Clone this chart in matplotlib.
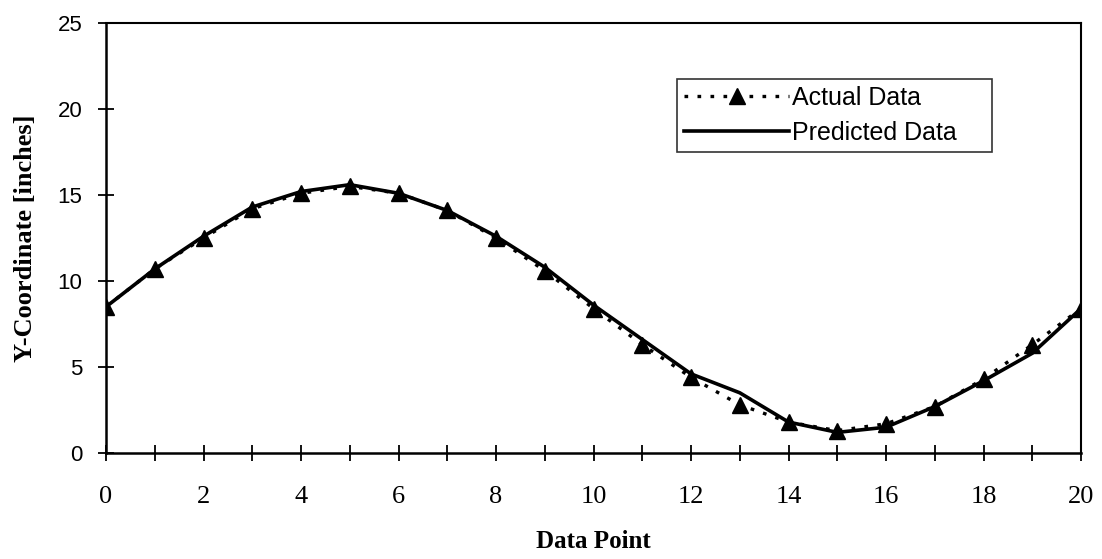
import numpy as np
import matplotlib.pyplot as plt

# values
data_point = list(range(21))
actual = [8.5, 10.7, 12.5, 14.2, 15.1, 15.5, 15.1, 14.1, 12.5, 10.6, 8.4,
          6.3, 4.4, 2.8, 1.8, 1.3, 1.7, 2.7, 4.3, 6.3, 8.4]
predicted = [8.5, 10.7, 12.6, 14.3, 15.2, 15.6, 15.1, 14.1, 12.6, 10.8, 8.6,
             6.6, 4.6, 3.5, 1.8, 1.2, 1.5, 2.7, 4.2, 5.8, 8.4]
yticks = [0, 5, 10, 15, 20, 25]

SANS = "Liberation Sans"
SERIF = "Liberation Serif"

fig = plt.figure(figsize=(11.02, 5.59), dpi=100)
ax = fig.add_axes([0.0962, 0.1896, 0.8848, 0.7693])

ax.plot(data_point, actual, color="black", lw=2.4, ls=(0, (1.1, 2.8)),
        marker="^", ms=11, mec="black", mfc="black", label="Actual Data")
ax.plot(data_point, predicted, color="black", lw=2.6, ls="-",
        label="Predicted Data")

ax.set_xlim(0, 20)
ax.set_ylim(0, 25)
ax.set_xticks(data_point)
ax.set_xticklabels([str(v) if v % 2 == 0 else "" for v in data_point],
                   fontfamily=SERIF, fontsize=19)
ax.set_yticks(yticks)
ax.set_yticklabels([str(v) for v in yticks], fontfamily=SANS, fontsize=16)

ax.tick_params(axis="y", direction="inout", length=12, width=1.3, pad=11)
ax.tick_params(axis="x", direction="inout", length=11, width=1.3, pad=18)

for side in ["left", "bottom"]:
    ax.spines[side].set_linewidth(1.8)
for side in ["top", "right"]:
    ax.spines[side].set_linewidth(1.5)

ax.set_xlabel("Data Point", fontfamily=SERIF, fontweight="bold", fontsize=18,
              labelpad=16)
ax.set_ylabel("Y-Coordinate [inches]", fontfamily=SERIF, fontweight="bold",
              fontsize=19, labelpad=15)

leg = ax.legend(loc="upper left", bbox_to_anchor=(0.586, 0.695, 0.323, 0.175),
                mode="expand", borderaxespad=0, frameon=True, fancybox=False,
                handlelength=4.2, handletextpad=0.1, borderpad=0.27,
                labelspacing=0.45, prop={"family": SANS, "size": 18})
leg.get_frame().set_edgecolor("black")
leg.get_frame().set_linewidth(1.2)

fig.savefig("out.png", dpi=100, facecolor="white")
